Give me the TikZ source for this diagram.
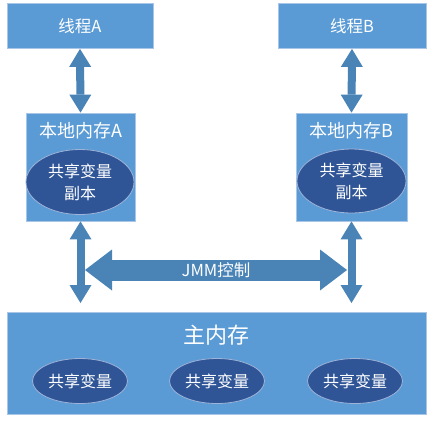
\documentclass[tikz,border=0pt]{standalone}
\usepackage{fontspec}
\setmainfont{Noto Sans CJK SC}
\usetikzlibrary{arrows.meta,shapes.geometric}
\definecolor{boxblue}{HTML}{5B9BD5}
\definecolor{boxline}{HTML}{A9C6E6}
\definecolor{varblue}{HTML}{2F5597}
\definecolor{varline}{HTML}{9DB3D8}
\definecolor{arrowblue}{HTML}{4A84B7}

\begin{document}
\begin{tikzpicture}[x=1pt, y=-1pt,
    box/.style={rectangle, draw=boxline, fill=boxblue, line width=0.8pt, text=white},
    var/.style={ellipse, draw=varline, fill=varblue, line width=0.8pt, text=white, align=center, inner sep=0pt},
    title/.style={text=white, inner sep=0pt},
    blockv/.style={color=arrowblue, line width=8pt, line cap=butt,
      {Triangle[width=22pt,length=18pt,line width=0pt]}-{Triangle[width=22pt,length=18pt,line width=0pt]}},
    blockh/.style={color=arrowblue, line width=21pt, line cap=butt,
      {Triangle[width=41pt,length=27pt,line width=0pt]}-{Triangle[width=41pt,length=27pt,line width=0pt]}},
    font=\fontsize{16.5}{18}\selectfont]
  \useasboundingbox (0,0) rectangle (433,424);
  % threads
  \node[box, minimum width=146pt, minimum height=45pt] (ta) at (80,26) {线程A};
  \node[box, minimum width=148pt, minimum height=45pt] (tb) at (352,26) {线程B};
  % local memory
  \node[box, minimum width=109pt, minimum height=108pt] (la) at (80.5,167) {};
  \node[box, minimum width=111pt, minimum height=108pt] (lb) at (351.5,167) {};
  \node[title, font=\fontsize{18}{20}\selectfont] (tla) at (80.5,131) {本地内存A};
  \node[title, font=\fontsize{18}{20}\selectfont] (tlb) at (351.5,131) {本地内存B};
  \node[var, minimum width=108pt, minimum height=65pt, font=\fontsize{16}{22}\selectfont] (ca) at (80,182) {共享变量\\副本};
  \node[var, minimum width=109pt, minimum height=64pt, font=\fontsize{16}{22}\selectfont] (cb) at (351.5,181) {共享变量\\副本};
  % main memory
  \node[box, minimum width=419pt, minimum height=102pt] (mm) at (216.5,363) {};
  \node[title, font=\fontsize{22}{24}\selectfont] (tmm) at (216.5,335) {主内存};
  \node[var, minimum width=95pt, minimum height=45pt, font=\fontsize{16}{18}\selectfont] (v1) at (80,381) {共享变量};
  \node[var, minimum width=95pt, minimum height=45pt, font=\fontsize{16}{18}\selectfont] (v2) at (217,381) {共享变量};
  \node[var, minimum width=95pt, minimum height=45pt, font=\fontsize{16}{18}\selectfont] (v3) at (355,381) {共享变量};

  \coordinate (ja) at (85,270);
  \coordinate (jb) at (347,270);
  \coordinate (ma) at (80.5,303);
  \coordinate (mb) at (351.5,303);
  \draw[blockh] (ja) -- node[text=white] {JMM控制} (jb);
  \draw[blockv] (ta.south) -- (la.north);
  \draw[blockv] (tb.south) -- (lb.north);
  \draw[blockv] (la.south) -- (ma);
  \draw[blockv] (lb.south) -- (mb);
\end{tikzpicture}
\end{document}
